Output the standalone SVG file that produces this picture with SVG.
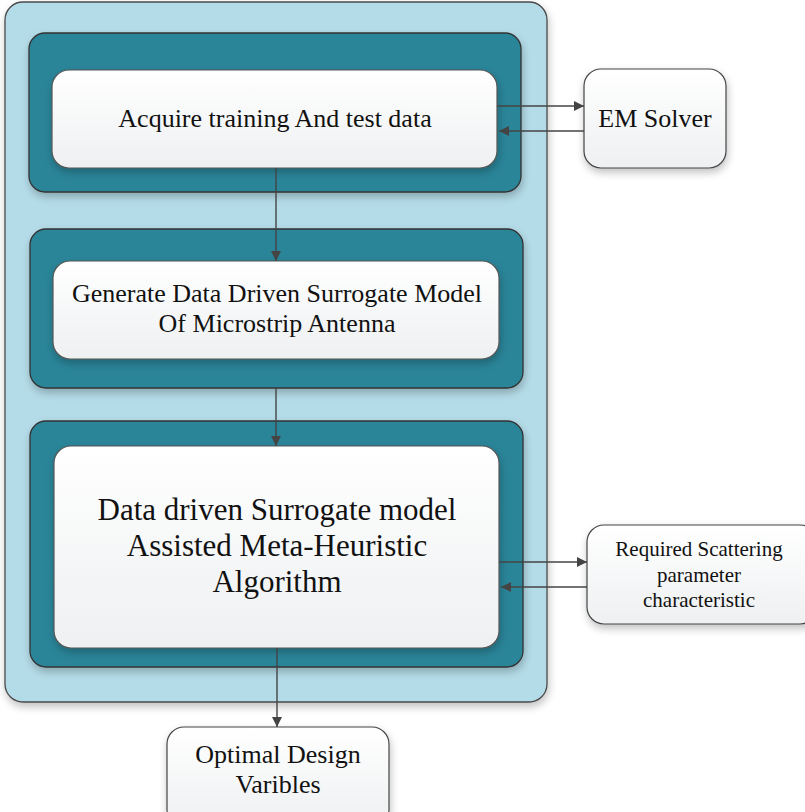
<svg xmlns="http://www.w3.org/2000/svg" width="805" height="812" viewBox="0 0 805 812">
  <defs>
    <linearGradient id="gWhite" x1="0" y1="0" x2="0" y2="1">
      <stop offset="0" stop-color="#ffffff"/>
      <stop offset="1" stop-color="#eef0f1"/>
    </linearGradient>
    <filter id="shadow" x="-10%" y="-10%" width="120%" height="125%">
      <feGaussianBlur in="SourceAlpha" stdDeviation="4"/>
      <feOffset dx="1" dy="4" result="b"/>
      <feComponentTransfer><feFuncA type="linear" slope="0.25"/></feComponentTransfer>
      <feMerge><feMergeNode/><feMergeNode in="SourceGraphic"/></feMerge>
    </filter>
    <marker id="arrow" viewBox="0 0 10 10" refX="10" refY="5" markerWidth="10" markerHeight="10" markerUnits="userSpaceOnUse" orient="auto">
      <path d="M0,0 L10,5 L0,10 z" fill="#444"/>
    </marker>
  </defs>
  <style>
    .outer { fill: #b4dce8; stroke: #4a4a4a; stroke-width: 1.3; }
    .teal { fill: #2b8599; stroke: #333; stroke-width: 1.3; }
    .card { fill: url(#gWhite); stroke: #555; stroke-width: 1.2; }
    .side { fill: url(#gWhite); stroke: #444; stroke-width: 1.2; }
    .label { font-family: "Liberation Serif", "Times New Roman", serif; fill: #111; text-anchor: middle; }
    .conn { stroke: #444; stroke-width: 1.4; fill: none; }
  </style>

  <rect width="805" height="812" fill="#ffffff"/>

  <!-- container -->
  <g id="container">
    <rect class="outer" x="5" y="2" width="542" height="700" rx="18" filter="url(#shadow)"/>
  </g>

  <!-- step 1 -->
  <g id="acquire">
    <rect class="teal" x="29" y="33" width="492" height="159" rx="16" filter="url(#shadow)"/>
    <rect class="card" x="52" y="70" width="445" height="98" rx="17" filter="url(#shadow)"/>
    <text class="label" x="275" y="127" font-size="26">Acquire training And test data</text>
  </g>

  <!-- step 2 -->
  <g id="generate">
    <rect class="teal" x="30" y="229" width="493" height="159" rx="16" filter="url(#shadow)"/>
    <rect class="card" x="53" y="261" width="446" height="98" rx="17" filter="url(#shadow)"/>
    <text class="label" x="277" y="302" font-size="26">Generate Data Driven Surrogate Model</text>
    <text class="label" x="277" y="332" font-size="26">Of Microstrip Antenna</text>
  </g>

  <!-- step 3 -->
  <g id="optimise">
    <rect class="teal" x="30" y="421" width="493" height="246" rx="16" filter="url(#shadow)"/>
    <rect class="card" x="54" y="446" width="445" height="202" rx="17" filter="url(#shadow)"/>
    <text class="label" x="277" y="520" font-size="31">Data driven Surrogate model</text>
    <text class="label" x="277" y="556" font-size="31">Assisted Meta-Heuristic</text>
    <text class="label" x="277" y="592" font-size="31">Algorithm</text>
  </g>

  <!-- external nodes -->
  <g id="em-solver">
    <rect class="side" x="584" y="69" width="142" height="99" rx="17" filter="url(#shadow)"/>
    <text class="label" x="655" y="127" font-size="26">EM Solver</text>
  </g>

  <g id="scattering">
    <rect class="side" x="587" y="525" width="230" height="99" rx="17" filter="url(#shadow)"/>
    <text class="label" x="699" y="556" font-size="21">Required Scattering</text>
    <text class="label" x="699" y="582" font-size="21">parameter</text>
    <text class="label" x="699" y="607" font-size="21">characteristic</text>
  </g>

  <g id="optimal">
    <rect class="side" x="167" y="727" width="222" height="100" rx="17" filter="url(#shadow)"/>
    <text class="label" x="278" y="763" font-size="26">Optimal Design</text>
    <text class="label" x="278" y="793" font-size="26">Varibles</text>
  </g>

  <!-- connectors -->
  <g id="connectors">
    <line class="conn" x1="276" y1="168" x2="276" y2="261" marker-end="url(#arrow)"/>
    <line class="conn" x1="276" y1="388" x2="276" y2="446" marker-end="url(#arrow)"/>
    <line class="conn" x1="277" y1="648" x2="277" y2="727" marker-end="url(#arrow)"/>
    <line class="conn" x1="497" y1="106" x2="584" y2="106" marker-end="url(#arrow)"/>
    <line class="conn" x1="584" y1="131" x2="499" y2="131" marker-end="url(#arrow)"/>
    <line class="conn" x1="499" y1="562" x2="587" y2="562" marker-end="url(#arrow)"/>
    <line class="conn" x1="587" y1="587" x2="501" y2="587" marker-end="url(#arrow)"/>
  </g>
</svg>
